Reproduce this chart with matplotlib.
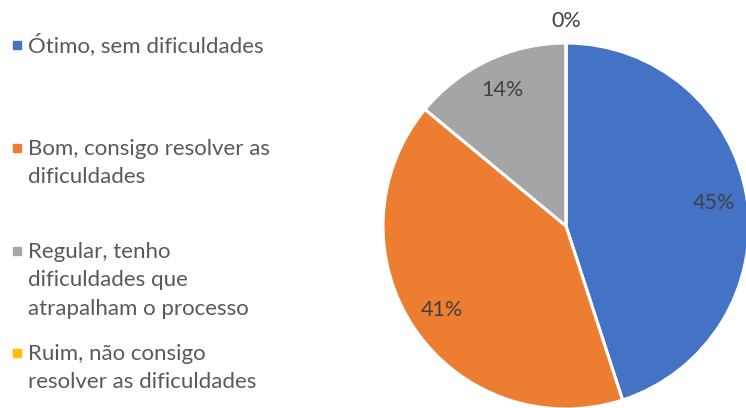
import matplotlib
matplotlib.use("Agg")
import matplotlib.pyplot as plt
import numpy as np

categories = ["Ótimo, sem dificuldades",
              "Bom, consigo resolver as\ndificuldades",
              "Regular, tenho\ndificuldades que\natrapalham o processo",
              "Ruim, não consigo\nresolver as dificuldades"]
values = [45, 41, 14, 0]
colors = ["#4472C4", "#ED7D31", "#A5A5A5", "#FFC000"]

plt.rcParams['font.family'] = ['Lato', 'DejaVu Sans']
W, H = 746, 408
fig = plt.figure(figsize=(W/100, H/100), dpi=100)

cx, cy, r = 566, 226, 183
ax = fig.add_axes([(cx - r)/W, (H - cy - r)/H, 2*r/W, 2*r/H])
wedges, texts, autotexts = ax.pie(values, colors=colors, startangle=90, counterclock=False,
                                  autopct=lambda p: f"{p:.0f}%", pctdistance=0.82,
                                  wedgeprops=dict(edgecolor="white", linewidth=2.2),
                                  textprops=dict(color="#404040", fontsize=15.5))
for w, t, v in zip(wedges, autotexts, values):
    if v == 0:
        ang = np.deg2rad((w.theta1 + w.theta2) / 2)
        t.set_position((1.12*np.cos(ang), 1.12*np.sin(ang)))
ax.set_xlim(-1, 1)
ax.set_ylim(-1, 1)
ax.set_aspect('equal')
ax.axis('off')

# legend
entry_base = [52, 155, 258, 360]
pitch = 28.5
for lab, col, y in zip(categories, colors, entry_base):
    fig.patches.append(plt.Rectangle((13/W, 1 - (y - 3)/H), 8/W, 8/H,
                                     transform=fig.transFigure, color=col))
    for i, line in enumerate(lab.split("\n")):
        fig.text(28/W, 1 - (y + i*pitch)/H, line, ha='left', va='baseline',
                 fontsize=16, color="#595959", transform=fig.transFigure)

fig.savefig("out.png", dpi=100)
